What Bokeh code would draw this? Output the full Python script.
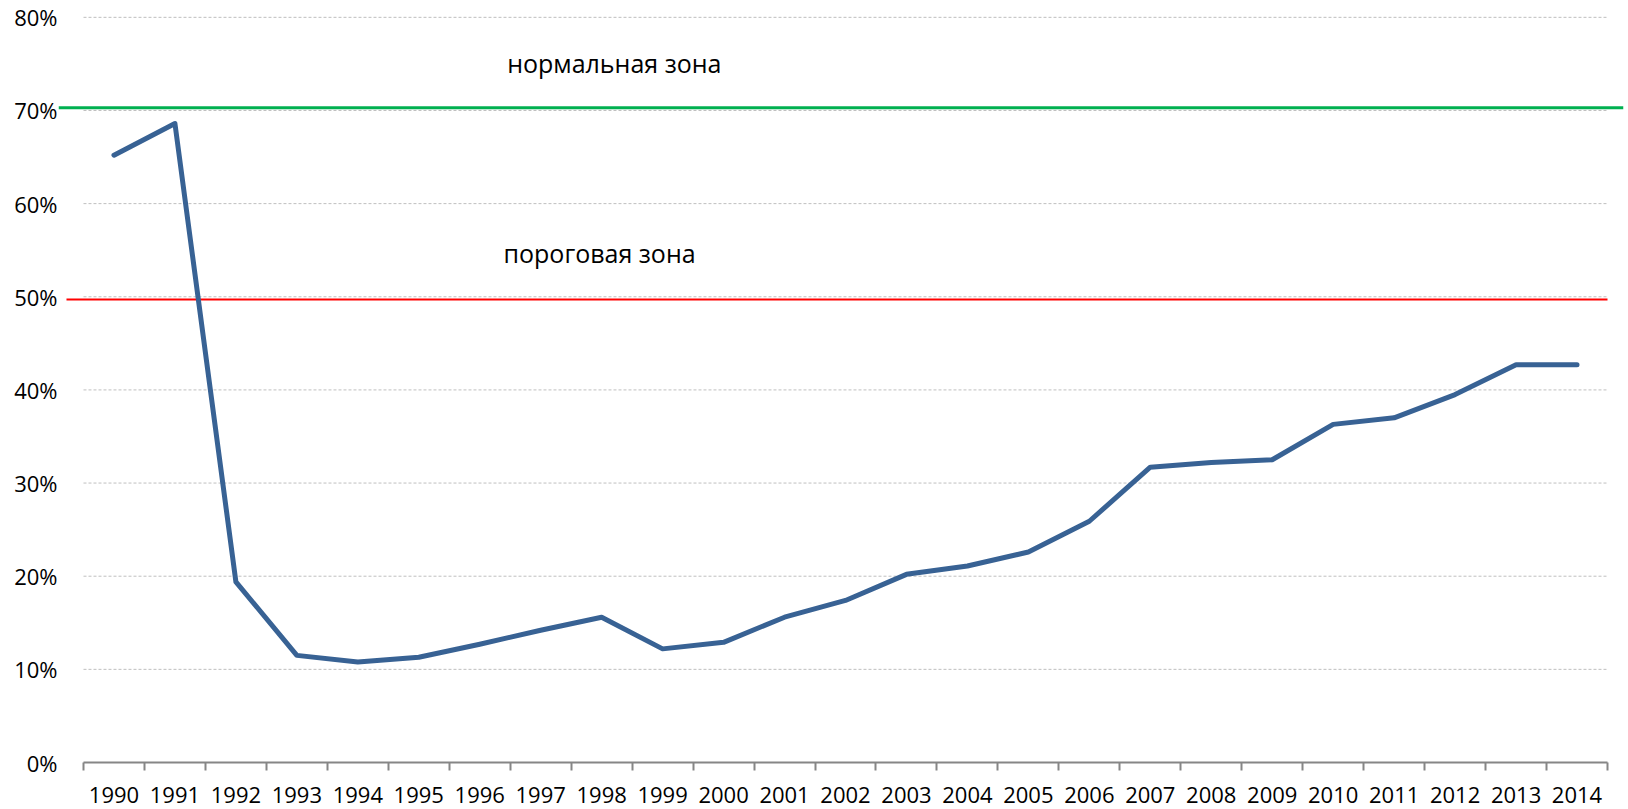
from bokeh.plotting import figure
from bokeh.models import FixedTicker, CustomJSTickFormatter, PrintfTickFormatter, Range1d, Span
from bokeh.core.properties import value
from bokeh.embed import file_html
from bokeh.resources import INLINE

# ---- data ----
years = ["1990", "1991", "1992", "1993", "1994", "1995", "1996", "1997", "1998",
         "1999", "2000", "2001", "2002", "2003", "2004", "2005", "2006", "2007",
         "2008", "2009", "2010", "2011", "2012", "2013", "2014"]
values = [65.2, 68.6, 19.4, 11.5, 10.8, 11.3, 12.7, 14.2, 15.6, 12.2, 12.9, 15.6,
          17.4, 20.2, 21.1, 22.6, 25.9, 31.7, 32.2, 32.5, 36.3, 37.0, 39.5, 42.7, 42.7]
y_ticks = [0, 10, 20, 30, 40, 50, 60, 70, 80]
normal_level = 70.3
threshold_level = 49.7
zone_labels = ["нормальная зона", "пороговая зона"]
zone_label_levels = [75.1, 54.7]

n = len(years)
centers = [i + 0.5 for i in range(n)]
bounds_x = list(range(n + 1))

FONT = "Open Sans"

p = figure(width=1628, height=809, output_backend="svg", toolbar_location=None,
           x_range=Range1d(-0.41, 25.2625), y_range=Range1d(0, 81.27),
           min_border_left=58, min_border_right=5, min_border_top=5, min_border_bottom=47)
p.outline_line_color = None
p.background_fill_color = "white"
p.border_fill_color = "white"
p.xgrid.visible = False
p.ygrid.visible = False

# dashed horizontal gridlines across the category area
p.segment(x0=0, x1=n, y0=y_ticks[1:], y1=y_ticks[1:], line_color="#BFBFBF",
          line_width=1, line_dash="3 2")

# zone lines
p.add_layout(Span(location=normal_level, dimension="width", line_color="#00B050", line_width=3))
p.segment(x0=[-0.279], x1=[n], y0=[threshold_level], y1=[threshold_level],
          line_color="#FF0000", line_width=2)

# main series
p.line(centers, values, line_color="#386294", line_width=5, line_join="round", line_cap="round")

# zone labels
p.text(x=[6.95, 6.89], y=zone_label_levels, text=zone_labels, text_font=value(FONT),
       text_font_size="25px", text_baseline="alphabetic", text_align="left", text_color="black")

# x axis
xa = p.xaxis[0]
xa.ticker = FixedTicker(ticks=centers, minor_ticks=bounds_x)
xa.formatter = CustomJSTickFormatter(args=dict(labels=years),
                                     code="return labels[Math.floor(tick)] || '';")
xa.bounds = (0, n)
xa.axis_line_color = "#868686"
xa.axis_line_width = 2
xa.major_tick_line_color = None
xa.major_tick_out = 0
xa.major_tick_in = 0
xa.minor_tick_line_color = "#868686"
xa.minor_tick_line_width = 2
xa.minor_tick_out = 8
xa.minor_tick_in = 0
xa.major_label_standoff = 16
xa.major_label_text_font = FONT
xa.major_label_text_font_size = "22px"
xa.major_label_text_color = "black"

# y axis
ya = p.yaxis[0]
ya.ticker = FixedTicker(ticks=y_ticks)
ya.formatter = PrintfTickFormatter(format="%d%%")
ya.axis_line_color = None
ya.major_tick_line_color = None
ya.minor_tick_line_color = None
ya.major_tick_out = 0
ya.major_tick_in = 0
ya.major_label_standoff = 1
ya.major_label_text_font = FONT
ya.major_label_text_font_size = "22px"
ya.major_label_text_color = "black"

open("out.html", "w").write(file_html(p, INLINE))
